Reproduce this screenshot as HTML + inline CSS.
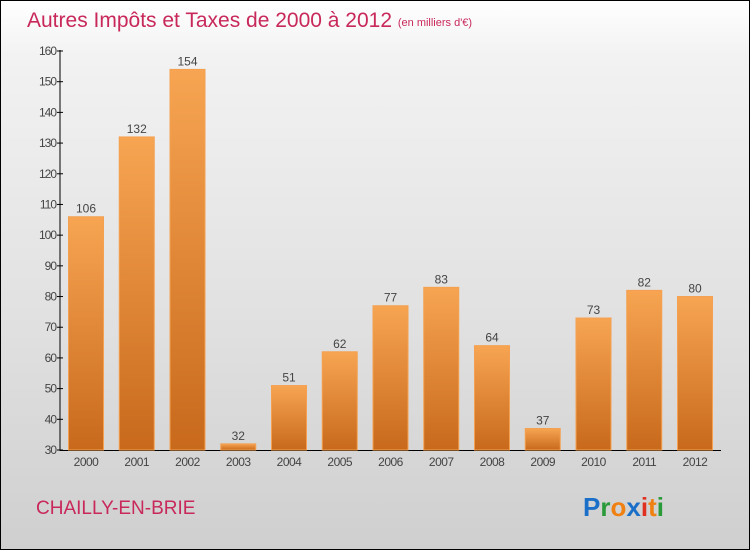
<!DOCTYPE html>
<html><head><meta charset="utf-8"><style>
body{margin:0;width:750px;height:550px;overflow:hidden}
#wrap{position:absolute;left:0;top:0;width:748px;height:548px;border:1px solid #000;background:linear-gradient(#fff,#f2f2f2 10%,#e0e0e0 60%,#cfcfcf);font-family:"Liberation Sans",sans-serif}
</style></head><body>
<div id="wrap">
<svg width="750" height="550" style="position:absolute;left:-1px;top:-1px">
<defs><linearGradient id="bg" x1="0" y1="0" x2="0" y2="1"><stop offset="0" stop-color="#f7a552"/><stop offset="1" stop-color="#c8691c"/></linearGradient></defs>
<text x="27" y="27" font-size="21" fill="#c8285a">Autres Impôts et Taxes de 2000 à 2012 <tspan font-size="11" dy="-1">(en milliers d'€)</tspan></text>
<g id="axes"></g><g id="bars"></g>
<text x="36" y="514" font-size="19" fill="#c8285a">CHAILLY-EN-BRIE</text>
<g font-size="26" font-weight="bold" font-family="Liberation Sans, sans-serif">
<text x="583" y="516"><tspan fill="#1a6fc8">P</tspan><tspan fill="#2a9a3a">r</tspan><tspan fill="#f08010">o</tspan><tspan fill="#1a6fc8">x</tspan><tspan fill="#e03020">i</tspan><tspan fill="#f08010">t</tspan><tspan fill="#2a9a3a">i</tspan></text></g>
</svg></div>
<script>
const years=["2000","2001","2002","2003","2004","2005","2006","2007","2008","2009","2010","2011","2012"];
const values=[106,132,154,32,51,62,77,83,64,37,73,82,80];
const ticks=[30,40,50,60,70,80,90,100,110,120,130,140,150,160];
const NS="http://www.w3.org/2000/svg";
const y=v=>450-(v-30)*399/130;
const x=i=>86+i*50.75;
function mk(t,a,p){const e=document.createElementNS(NS,t);for(const k in a)e.setAttribute(k,a[k]);p.appendChild(e);return e;}
const ax=document.getElementById('axes'),bg=document.getElementById('bars');
let l=mk('line',{x1:60,y1:50,x2:60,y2:451,stroke:'#000'},ax);


l=mk('line',{x1:60,y1:450.5,x2:721,y2:450.5,stroke:'#000'},ax);


ticks.forEach(t=>{mk('line',{x1:57,x2:63,y1:y(t),y2:y(t),stroke:'#000'},ax);
const tx=mk('text',{x:56,y:y(t)+4,'font-size':12,'text-anchor':'end',fill:'#444','letter-spacing':'-1'},ax);tx.textContent=t;

});
years.forEach((yr,i)=>{const v=values[i];
const r=mk('rect',{x:x(i)-17.5,y:y(v),width:35,height:450-y(v),fill:'url(#bg)',stroke:'#f4a050','stroke-width':1},bg);


const vl=mk('text',{x:x(i),y:y(v)-4,'font-size':12,'text-anchor':'middle',fill:'#444'},bg);vl.textContent=v;


const xl=mk('text',{x:x(i),y:466,'font-size':12,'text-anchor':'middle',fill:'#444','letter-spacing':'-0.5'},ax);xl.textContent=yr;

});
</script>
</body></html>
